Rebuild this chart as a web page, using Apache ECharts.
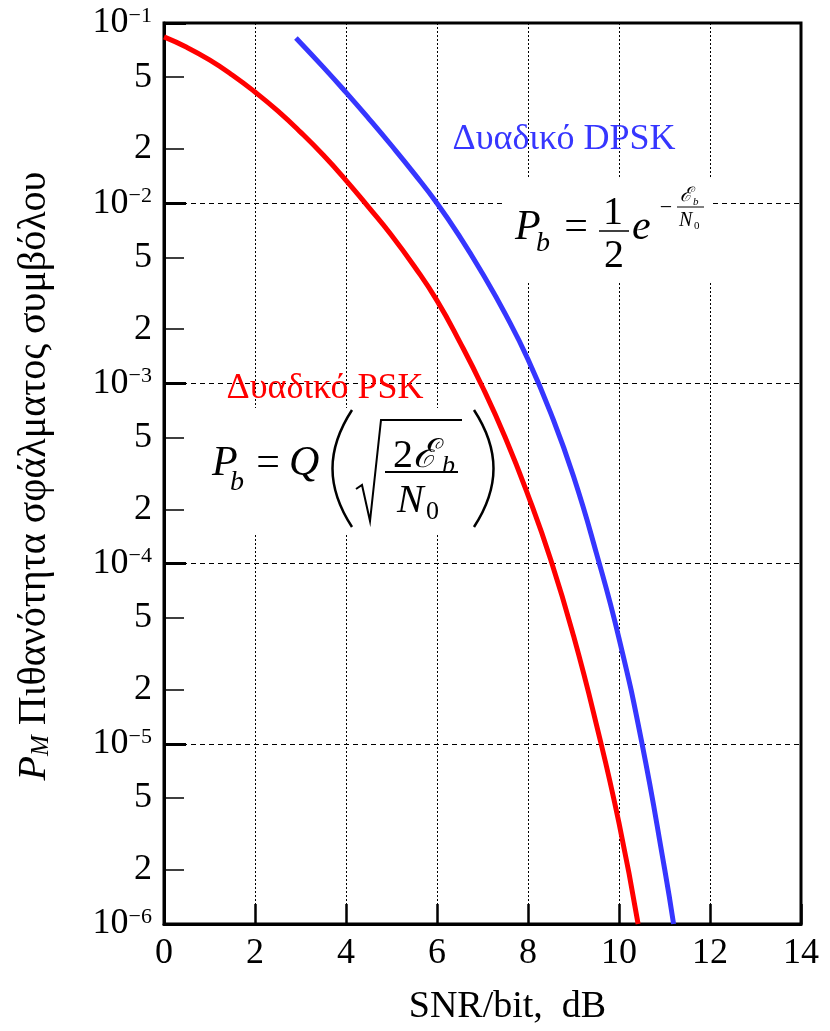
<!DOCTYPE html>
<html>
<head>
<meta charset="utf-8">
<script src="https://cdn.jsdelivr.net/npm/echarts@6/dist/echarts.min.js"></script>
<style>
html, body { margin: 0; padding: 0; background: #fff; }
#main { width: 830px; height: 1031px; }
</style>
</head>
<body>
<div id="main"></div>
<script>
// τιμές διαβασμένες από το σχήμα (SNR/bit σε dB, πιθανότητα σφάλματος)
const pskSnr  = [0, 0.5, 1, 1.5, 2, 2.5, 3, 3.5, 4, 4.5, 5, 5.5, 6, 6.5, 7, 7.5, 8, 8.5, 9, 9.5, 10, 10.42];
const pskPe   = [0.0837, 0.0733, 0.0624, 0.0515, 0.0414, 0.0325, 0.0248, 0.0185, 0.0134, 0.00948, 0.00664, 0.00447,
                 0.00288, 0.0017, 9.55e-4, 5.01e-4, 2.4e-4, 1.05e-4, 3.98e-5, 1.29e-5, 3.63e-6, 1e-6];
const dpskSnr = [2.9, 3.5, 4, 4.5, 5, 5.5, 6, 6.5, 7, 7.5, 8, 8.5, 9, 9.5, 10, 10.5, 11, 11.2];
const dpskPe  = [0.0826, 0.0569, 0.0412, 0.0295, 0.0209, 0.0146, 0.01, 0.00653, 0.00407, 0.00243, 0.00136,
                 6.84e-4, 3.05e-4, 1.15e-4, 3.85e-5, 1.02e-5, 2.04e-6, 1e-6];

const yDecades = [1e-6, 1e-5, 1e-4, 1e-3, 1e-2, 1e-1];
const yMinor = [2e-6, 5e-6, 2e-5, 5e-5, 2e-4, 5e-4, 2e-3, 5e-3, 2e-2, 5e-2];

const serif = 'Liberation Serif, DejaVu Serif, serif';
const red = '#ff0000';
const blue = '#3636ff';

function pairs(xs, ys) {
  return xs.map((x, i) => [x, ys[i]]);
}

// κομμάτια των τύπων (σχόλια πάνω στο σχήμα)
function txt(x, y, text, size, opt) {
  opt = opt || {};
  return {
    type: 'text', x: x, y: y, z: 20,
    style: {
      text: text,
      fontFamily: serif,
      fontSize: size,
      fontStyle: opt.italic ? 'italic' : 'normal',
      fill: opt.fill || '#000',
      align: opt.align || 'left',
      verticalAlign: 'middle'
    }
  };
}
function seg(x1, y1, x2, y2, w) {
  return { type: 'line', z: 20, shape: { x1: x1, y1: y1, x2: x2, y2: y2 }, style: { stroke: '#000', lineWidth: w || 1.5 } };
}

const graphics = [
  // λευκά πλαίσια πίσω από τους τύπους
  { type: 'rect', z: 1, shape: { x: 505, y: 177, width: 207, height: 105 }, style: { fill: '#fff' } },
  { type: 'rect', z: 1, shape: { x: 200, y: 408, width: 296, height: 125 }, style: { fill: '#fff' } },

  // τίτλος άξονα y
  {
    type: 'text', x: 34, y: 476, rotation: Math.PI / 2, z: 20,
    style: {
      text: '{p|P}{m|M}{t| Πιθανότητα σφάλματος συμβόλου}',
      align: 'center', verticalAlign: 'middle',
      rich: {
        p: { fontFamily: serif, fontStyle: 'italic', fontSize: 40, fill: '#000' },
        m: { fontFamily: serif, fontStyle: 'italic', fontSize: 25, fill: '#000', verticalAlign: 'bottom' },
        t: { fontFamily: serif, fontSize: 40, fill: '#000' }
      }
    }
  },

  // ετικέτες καμπυλών
  txt(564, 140, 'Δυαδικό DPSK', 36, { fill: blue, align: 'center' }),
  txt(325, 389, 'Δυαδικό PSK', 36, { fill: red, align: 'center' }),

  // P_b = 1/2 e^{-Eb/N0}
  txt(515, 228, 'P', 42, { italic: true }),
  txt(536, 244, 'b', 28, { italic: true }),
  txt(576, 228, '=', 42, { align: 'center' }),
  txt(613, 213, '1', 40, { align: 'center' }),
  seg(599, 231, 629, 231, 1.5),
  txt(614, 256, '2', 40, { align: 'center' }),
  txt(632, 228, 'e', 42, { italic: true }),
  txt(666, 208, '−', 22, { align: 'center' }),
  txt(680, 196, 'ℰ', 20, { italic: true }),
  txt(693, 202, 'b', 11, { italic: true }),
  seg(677, 207, 704, 207, 1),
  txt(679, 221, 'N', 20, { italic: true }),
  txt(694, 226, '0', 11),

  // P_b = Q( sqrt(2Eb/N0) )
  txt(212, 464, 'P', 42, { italic: true }),
  txt(230, 483, 'b', 28, { italic: true }),
  txt(268, 464, '=', 42, { align: 'center' }),
  txt(289, 464, 'Q', 42, { italic: true }),
  { type: 'bezierCurve', z: 20, shape: { x1: 352, y1: 410, x2: 352, y2: 527, cpx1: 326, cpy1: 450, cpx2: 326, cpy2: 487 }, style: { stroke: '#000', lineWidth: 2.5, fill: null } },
  { type: 'bezierCurve', z: 20, shape: { x1: 474, y1: 410, x2: 474, y2: 527, cpx1: 500, cpy1: 450, cpx2: 500, cpy2: 487 }, style: { stroke: '#000', lineWidth: 2.5, fill: null } },
  { type: 'polyline', z: 20, shape: { points: [[356, 489], [362, 485], [370, 521], [381, 420], [462, 420]] }, style: { stroke: '#000', lineWidth: 2, fill: null } },
  txt(393, 456, '2', 40),
  txt(413, 456, 'ℰ', 40, { italic: true }),
  txt(442, 466, 'b', 26, { italic: true }),
  seg(385, 472, 458, 472, 2),
  txt(397, 501, 'N', 40, { italic: true }),
  txt(426, 512, '0', 26)
];

const chart = echarts.init(document.getElementById('main'));
chart.setOption({
  backgroundColor: '#fff',
  animation: false,
  grid: { left: 164, right: 29, top: 23, bottom: 103, show: true, borderColor: '#000', borderWidth: 3 },
  xAxis: {
    type: 'value', min: 0, max: 14, interval: 2,
    name: 'SNR/bit,  dB', nameLocation: 'middle', nameGap: 64,
    nameTextStyle: { fontFamily: serif, fontSize: 38, color: '#000', padding: [0, 0, 0, 50] },
    axisLine: { lineStyle: { color: '#000', width: 3 } },
    axisTick: { inside: true, length: 20, lineStyle: { color: '#000', width: 2.5 } },
    axisLabel: { fontFamily: serif, fontSize: 36, color: '#000', margin: 12 },
    splitLine: { show: true, lineStyle: { color: '#000', width: 1, type: [2, 2] } }
  },
  yAxis: [
    {
      type: 'log', logBase: 10, min: 1e-6, max: 1e-1, position: 'left',
      axisLine: { lineStyle: { color: '#000', width: 3 } },
      axisTick: { inside: true, length: 22, customValues: yDecades, lineStyle: { color: '#000', width: 3 } },
      axisLabel: {
        customValues: yDecades, margin: 12,
        formatter: (v) => '{b|10}{s|−' + Math.round(-Math.log10(v)) + '}',
        rich: {
          b: { fontFamily: serif, fontSize: 36, color: '#000' },
          s: { fontFamily: serif, fontSize: 22, color: '#000', verticalAlign: 'top' }
        }
      },
      splitLine: { show: true, lineStyle: { color: '#000', width: 1, type: [5, 4] } }
    },
    {
      type: 'log', logBase: 10, min: 1e-6, max: 1e-1, position: 'left',
      axisLine: { show: false },
      axisTick: { inside: true, length: 20, customValues: yMinor, lineStyle: { color: '#000', width: 1.5 } },
      axisLabel: {
        customValues: yMinor, margin: 12,
        fontFamily: serif, fontSize: 36, color: '#000',
        formatter: (v) => String(Math.round(v / Math.pow(10, Math.floor(Math.log10(v) + 1e-9))))
      },
      splitLine: { show: false }
    }
  ],
  series: [
    {
      name: 'Δυαδικό PSK', type: 'line', yAxisIndex: 0,
      data: pairs(pskSnr, pskPe),
      smooth: 0.5, showSymbol: false, z: 5,
      lineStyle: { color: red, width: 5 }
    },
    {
      name: 'Δυαδικό DPSK', type: 'line', yAxisIndex: 0,
      data: pairs(dpskSnr, dpskPe),
      smooth: 0.5, showSymbol: false, z: 5,
      lineStyle: { color: blue, width: 5 }
    }
  ],
  graphic: graphics
});
</script>
</body>
</html>
